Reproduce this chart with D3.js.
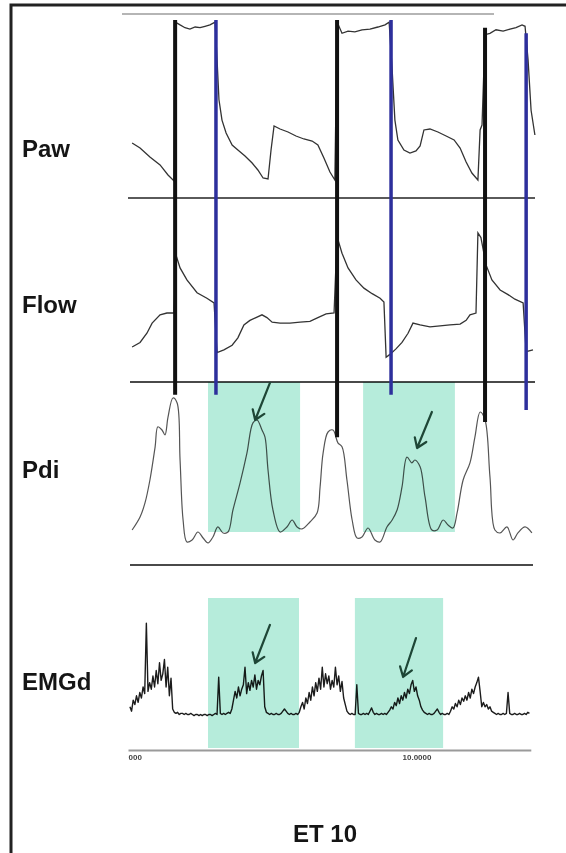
<!DOCTYPE html>
<html>
<head>
<meta charset="utf-8">
<script src="https://cdn.jsdelivr.net/npm/d3@7"></script>
<style>
  html, body { margin: 0; padding: 0; background: #fff; }
  svg { display: block; font-family: "Liberation Sans", Arial, sans-serif; }
</style>
</head>
<body>
<svg id="chart" width="566" height="853"></svg>
<script>
// ---------------- data ----------------
const channels = ["Paw", "Flow", "Pdi", "EMGd"];
const title = "ET 10";
const timeTicks = [0, 10];
const timeTickLabels = ["000", "10.0000"];

// airway pressure: [time (s), cmH2O]
const pawTrace = [[0.15,7.43],[0.44,6.71],[0.80,5.43],[1.17,4.29],[1.46,2.86],[1.68,2.0],[1.73,24.7],[1.90,24.3],[2.08,23.9],[2.26,23.7],[2.45,24.0],[2.63,23.9],[2.81,24.1],[2.99,24.3],[3.18,24.7],[3.25,19.3],[3.32,13.6],[3.43,10.7],[3.58,8.86],[3.80,7.14],[4.01,6.43],[4.27,5.57],[4.53,4.57],[4.74,3.57],[4.93,2.43],[5.11,2.29],[5.22,6.43],[5.33,9.86],[5.55,9.43],[5.84,9.0],[6.13,8.43],[6.42,8.0],[6.72,7.71],[6.93,7.14],[7.15,5.29],[7.37,3.29],[7.55,2.14],[7.63,24.7],[7.81,23.1],[8.03,23.4],[8.28,23.3],[8.54,23.6],[8.83,23.7],[9.12,24.0],[9.38,24.3],[9.53,24.7],[9.64,17.9],[9.74,10.7],[9.85,7.86],[10.07,6.43],[10.29,6.0],[10.51,6.29],[10.66,7.0],[10.80,9.29],[11.02,9.43],[11.31,9.0],[11.61,8.43],[11.90,7.86],[12.12,6.71],[12.34,4.71],[12.55,3.14],[12.77,2.14],[12.85,9.29],[12.92,10.0],[13.03,22.9],[13.21,23.1],[13.43,23.6],[13.69,23.4],[13.94,23.7],[14.16,23.9],[14.38,24.3],[14.49,24.1],[14.60,19.3],[14.71,12.1],[14.85,8.57]];

// airflow: [time (s), L/s]
const flowTrace = [[0.15,-0.62],[0.44,-0.57],[0.69,-0.47],[0.88,-0.36],[1.17,-0.27],[1.42,-0.25],[1.68,-0.25],[1.75,0.38],[1.90,0.24],[2.15,0.11],[2.52,-0.03],[2.88,-0.09],[3.14,-0.14],[3.25,-0.68],[3.50,-0.65],[3.80,-0.60],[4.01,-0.52],[4.23,-0.38],[4.45,-0.33],[4.67,-0.30],[4.89,-0.27],[5.07,-0.30],[5.26,-0.35],[5.55,-0.36],[5.91,-0.36],[6.28,-0.35],[6.64,-0.34],[6.93,-0.30],[7.23,-0.26],[7.52,-0.25],[7.63,0.58],[7.81,0.40],[8.03,0.24],[8.32,0.11],[8.61,0.02],[8.91,-0.04],[9.20,-0.09],[9.34,-0.13],[9.42,-0.73],[9.56,-0.70],[9.78,-0.64],[10.0,-0.57],[10.22,-0.47],[10.40,-0.36],[10.66,-0.38],[11.02,-0.40],[11.39,-0.39],[11.75,-0.38],[12.12,-0.37],[12.34,-0.33],[12.48,-0.27],[12.70,-0.25],[12.77,0.62],[12.88,0.57],[13.07,0.27],[13.28,0.11],[13.58,0.0],[13.87,-0.05],[14.12,-0.10],[14.42,-0.14],[14.53,-0.67],[14.78,-0.65]];

// transdiaphragmatic pressure: [time (s), cmH2O]
const pdiTrace = [[0.15,2.5],[0.44,4.13],[0.62,5.88],[0.80,8.75],[0.99,12.9],[1.09,15.4],[1.24,15.0],[1.35,14.4],[1.46,16.6],[1.64,19.0],[1.79,18.4],[1.90,11.25],[2.01,3.75],[2.15,1.0],[2.34,1.25],[2.55,2.25],[2.74,1.5],[2.92,0.88],[3.10,1.63],[3.28,2.88],[3.47,2.13],[3.65,2.25],[3.83,5.0],[4.09,8.38],[4.34,12.1],[4.56,15.9],[4.71,16.25],[4.89,15.0],[5.00,14.1],[5.11,10.0],[5.29,5.0],[5.55,2.25],[5.80,2.88],[5.99,3.75],[6.17,2.88],[6.35,2.63],[6.64,3.5],[6.90,4.63],[7.01,7.88],[7.12,12.1],[7.30,14.75],[7.48,15.0],[7.66,13.4],[7.81,12.9],[7.99,8.75],[8.18,3.75],[8.36,1.5],[8.54,1.63],[8.76,2.75],[9.01,1.25],[9.20,1.0],[9.45,2.88],[9.64,3.75],[9.82,5.0],[10.0,7.88],[10.18,11.6],[10.36,10.9],[10.47,11.25],[10.66,10.4],[10.84,6.63],[11.09,2.5],[11.28,2.5],[11.50,3.75],[11.68,3.13],[11.86,2.75],[12.01,4.63],[12.23,8.75],[12.48,10.9],[12.66,14.1],[12.85,17.25],[13.03,16.25],[13.21,9.13],[13.39,2.5],[13.58,2.13],[13.83,2.88],[14.05,1.25],[14.23,2.13],[14.49,2.88],[14.74,2.13]];

// diaphragm EMG (µV), sampled every emgStep seconds from emgStart
const emgStart = 0.07;
const emgStep = 0.06;
const emgValues = [
  12, 8, 18, 14, 22, 16, 25, 20, 30, 24, 88, 26, 34, 28, 40, 30, 45, 33, 52, 36, 42, 55, 30, 48, 22, 38,
  10, 7, 6, 7, 5, 6, 6, 5, 6, 5, 5, 6, 5, 4, 5, 5, 4, 5, 4, 5, 5, 4, 5, 5, 4, 5, 6, 5,
  39, 6, 5, 6, 5, 6, 7, 6,
  10, 18, 26, 20, 30, 22, 28, 32, 48, 24, 34, 27, 36, 30, 41, 28, 36, 32, 40, 45, 12,
  7, 6, 5, 6, 5, 5, 6, 5, 5, 6, 8, 10, 8, 6, 5, 6, 5, 5, 6, 5, 7,
  12, 16, 10, 20, 15, 25, 18, 30, 22, 34, 26, 38, 28, 48, 30, 42, 33, 40, 28, 36, 30, 48, 32, 40, 26, 35, 20, 14, 8,
  6, 5, 6, 5, 5,
  32,
  6, 5, 5, 6, 5, 6, 5, 8, 11, 7, 5, 6, 5, 5, 6, 5, 6, 5, 7,
  9, 12, 10, 16, 13, 20, 15, 22, 18, 25, 20, 28, 24, 32, 36, 26, 30, 22, 18, 12, 9, 7,
  6, 5, 6, 5, 5, 6, 8, 10, 7, 5, 6, 5, 5, 6, 5,
  8, 12, 10, 15, 12, 18, 14, 20, 17, 22, 18, 25, 20, 28, 24, 30, 34, 39, 26, 12,
  16, 12, 14, 10, 12, 8, 7, 6, 5, 6, 5, 5, 6, 5, 6, 25, 6, 5, 5, 6, 5, 5, 6, 5, 5, 6, 5, 7, 6
];

// ventilator trigger (black) and cycling-off (blue) markers:
// each runs from the Paw plateau down to the Pdi value at that instant
const triggerTimes = [1.72, 7.63, 13.03];
const triggerPawTop = [25.0, 25.0, 23.9];
const triggerPdiEnd = [19.4, 14.1, 16.0];
const cycleOffTimes = [3.21, 9.60, 14.53];
const cycleOffPawTop = [25.0, 25.0, 23.1];
const cycleOffPdiEnd = [19.4, 19.4, 17.5];

// ineffective inspiratory efforts (shaded), seconds
const pdiEffortStart = [2.92, 8.58];
const pdiEffortEnd = [6.28, 11.93];
const emgEffortStart = [2.92, 8.28];
const emgEffortEnd = [6.24, 11.50];

// arrows pointing at the ineffective efforts
const arrowChannel = ["Pdi", "Pdi", "EMGd", "EMGd"];
const arrowFromT = [5.18, 11.09, 5.18, 10.51];
const arrowFromV = [20.9, 17.25, 86.4, 74.5];
const arrowToT = [4.64, 10.55, 4.64, 10.04];
const arrowToV = [16.25, 12.75, 51.8, 39.1];

// ---------------- layout ----------------
const svg = d3.select("#chart");
const x = d3.scaleLinear().domain([0, 14.7]).range([128, 530.8]);
const yScale = {
  Paw:  d3.scaleLinear().domain([0, 25]).range([195, 20]),
  Flow: d3.scaleLinear().domain([-1, 1]).range([382, 198]),
  Pdi:  d3.scaleLinear().domain([0, 20]).range([550, 390]),
  EMGd: d3.scaleLinear().domain([0, 100]).range([720, 610])
};
const labelBaseline = { Paw: 157, Flow: 313, Pdi: 478, EMGd: 690 };
const shadeBand = { Pdi: [382, 532], EMGd: [598, 748] };

// frame
svg.append("path")
  .attr("d", "M11,853 V5 H566")
  .attr("fill", "none").attr("stroke", "#222").attr("stroke-width", 3);

// channel separators
const separators = [
  { y: 14,  x0: 122, x1: 494, c: "#b5b5b5" },
  { y: 198, x0: 128, x1: 535, c: "#5a5a5a" },
  { y: 382, x0: 130, x1: 535, c: "#4a4a4a" },
  { y: 565, x0: 130, x1: 533, c: "#4a4a4a" }
];
svg.append("g").selectAll("line").data(separators).join("line")
  .attr("x1", d => d.x0).attr("x2", d => d.x1)
  .attr("y1", d => d.y).attr("y2", d => d.y)
  .attr("stroke", d => d.c).attr("stroke-width", 2);

// time axis under the EMG trace
const axis = d3.axisBottom(x)
  .tickValues(timeTicks)
  .tickSize(0)
  .tickFormat((d, i) => timeTickLabels[i]);
const gAxis = svg.append("g").attr("transform", "translate(0,750)").call(axis);
gAxis.select(".domain").attr("stroke", "#9a9a9a").attr("stroke-width", 2);
gAxis.selectAll("text")
  .attr("text-anchor", "start").attr("dy", "0.9em").attr("y", 3)
  .attr("font-size", 8).attr("font-weight", "bold").attr("fill", "#444")
  .attr("font-family", "'Liberation Sans', Arial, sans-serif");

// traces
const lineOf = (ch, curve) => d3.line()
  .x(d => x(d[0])).y(d => yScale[ch](d[1])).curve(curve);

svg.append("path").datum(pawTrace)
  .attr("d", lineOf("Paw", d3.curveLinear))
  .attr("fill", "none").attr("stroke", "#333").attr("stroke-width", 1.3);
svg.append("path").datum(flowTrace)
  .attr("d", lineOf("Flow", d3.curveLinear))
  .attr("fill", "none").attr("stroke", "#333").attr("stroke-width", 1.3);
svg.append("path").datum(pdiTrace)
  .attr("d", lineOf("Pdi", d3.curveCatmullRom.alpha(0.5)))
  .attr("fill", "none").attr("stroke", "#555").attr("stroke-width", 1.2);
const emgTrace = emgValues.map((v, i) => [emgStart + i * emgStep, v]);
svg.append("path").datum(emgTrace)
  .attr("d", lineOf("EMGd", d3.curveLinear))
  .attr("fill", "none").attr("stroke", "#1c1c1c").attr("stroke-width", 1.4)
  .attr("stroke-linejoin", "round");

// shaded ineffective efforts (multiplied over the traces)
const shades = [];
pdiEffortStart.forEach((s, i) => shades.push({ ch: "Pdi", s, e: pdiEffortEnd[i] }));
emgEffortStart.forEach((s, i) => shades.push({ ch: "EMGd", s, e: emgEffortEnd[i] }));
svg.append("g").selectAll("rect").data(shades).join("rect")
  .attr("x", d => x(d.s)).attr("width", d => x(d.e) - x(d.s))
  .attr("y", d => shadeBand[d.ch][0])
  .attr("height", d => shadeBand[d.ch][1] - shadeBand[d.ch][0])
  .attr("fill", "#b6ecdb")
  .style("mix-blend-mode", "multiply");

// ventilator markers
const markers = [];
triggerTimes.forEach((t, i) => markers.push({ t, top: triggerPawTop[i], end: triggerPdiEnd[i], c: "#111", w: 4 }));
cycleOffTimes.forEach((t, i) => markers.push({ t, top: cycleOffPawTop[i], end: cycleOffPdiEnd[i], c: "#2d2f9c", w: 3.5 }));
svg.append("g").selectAll("line").data(markers).join("line")
  .attr("x1", d => x(d.t)).attr("x2", d => x(d.t))
  .attr("y1", d => yScale.Paw(d.top)).attr("y2", d => yScale.Pdi(d.end))
  .attr("stroke", d => d.c).attr("stroke-width", d => d.w);

// arrows
const arrows = arrowChannel.map((ch, i) => {
  const x0 = x(arrowFromT[i]), y0 = yScale[ch](arrowFromV[i]);
  const x1 = x(arrowToT[i]), y1 = yScale[ch](arrowToV[i]);
  const a = Math.atan2(y0 - y1, x0 - x1), len = 11, spread = 0.6;
  const h1 = [x1 + len * Math.cos(a + spread), y1 + len * Math.sin(a + spread)];
  const h2 = [x1 + len * Math.cos(a - spread), y1 + len * Math.sin(a - spread)];
  return `M${x0},${y0}L${x1},${y1}M${h1[0]},${h1[1]}L${x1},${y1}L${h2[0]},${h2[1]}`;
});
svg.append("g").selectAll("path").data(arrows).join("path")
  .attr("d", d => d)
  .attr("fill", "none").attr("stroke", "#1e4636").attr("stroke-width", 2.2)
  .attr("stroke-linecap", "round").attr("stroke-linejoin", "round");

// channel labels
svg.append("g").selectAll("text").data(channels).join("text")
  .attr("x", 22).attr("y", d => labelBaseline[d])
  .attr("font-size", 24).attr("font-weight", "bold").attr("fill", "#151515")
  .text(d => d);

// title
svg.append("text")
  .attr("x", 325).attr("y", 842).attr("text-anchor", "middle")
  .attr("font-size", 24).attr("font-weight", "bold").attr("fill", "#151515")
  .text(title);
</script>
</body>
</html>
